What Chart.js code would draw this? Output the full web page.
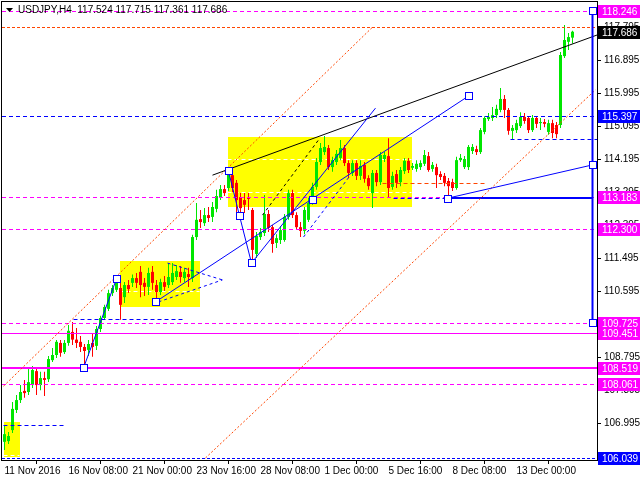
<!DOCTYPE html>
<html>
<head>
<meta charset="utf-8">
<script src="https://cdn.jsdelivr.net/npm/chart.js@4.4.1/dist/chart.umd.min.js"></script>
<style>
  html, body { margin: 0; padding: 0; background: #fff; }
</style>
</head>
<body>
<canvas id="chart" width="640" height="480"></canvas>
<script>
// USDJPY H4 candles (bar 0 = 11 Nov 2016)
const opens = [
  106.49,106.51,106.81,107.36,107.63,107.88,107.85,108.04,108.42,108.04,
  108.23,108.20,108.72,108.86,109.19,108.94,109.19,109.49,109.28,109.22,
  109.08,109.00,109.19,109.11,109.57,109.87,110.12,110.55,110.64,110.69,
  110.44,110.77,110.83,110.96,111.13,110.83,110.72,111.13,110.77,110.58,
  110.85,110.77,110.85,110.99,111.13,110.96,111.07,110.96,112.08,112.57,
  112.46,112.68,112.63,112.85,113.17,113.39,113.42,113.77,113.56,113.17,
  113.09,113.17,112.82,111.62,112.08,112.19,112.71,112.35,111.92,112.00,
  112.00,112.63,113.28,112.68,112.35,112.25,112.55,113.04,113.45,114.13,
  114.40,114.51,113.99,114.13,114.24,114.51,114.10,113.83,114.10,113.75,
  114.05,113.69,113.28,113.83,113.58,114.21,114.29,113.45,113.80,113.58,
  113.88,114.16,113.97,113.94,113.99,114.08,114.29,113.94,113.99,113.80,
  113.75,113.61,113.58,113.42,114.18,113.99,113.99,114.43,114.48,114.40,
  114.95,115.30,115.33,115.41,115.55,115.85,115.55,114.98,115.00,115.11,
  115.36,115.33,115.00,115.33,115.19,115.22,114.95,115.19,115.14,115.14,
  117.02,117.41,117.524
];
const highs = [
  106.95,106.76,107.58,107.77,108.04,108.18,108.51,108.56,108.51,108.40,
  108.40,108.83,109.05,109.27,109.27,109.27,109.68,109.76,109.60,109.38,
  109.16,109.27,109.46,109.65,109.93,110.23,110.64,110.77,110.94,110.85,
  110.85,110.91,111.06,111.10,111.29,110.96,111.24,111.29,110.91,110.94,
  111.02,111.37,111.37,111.32,111.29,111.24,111.24,112.14,113.01,112.82,
  112.87,112.90,113.04,113.37,113.50,113.50,113.91,113.86,113.64,113.28,
  113.28,113.28,112.87,112.22,112.33,113.23,112.82,112.41,112.16,112.38,
  112.71,113.37,113.37,112.76,112.49,112.90,113.15,113.56,114.24,114.65,
  114.84,114.59,114.27,114.46,114.73,114.59,114.18,114.18,114.18,114.18,
  114.13,113.77,113.91,113.91,114.40,114.40,114.78,113.86,113.91,113.99,
  114.24,114.24,114.10,114.18,114.18,114.46,114.40,114.13,114.08,113.88,
  113.83,113.69,113.67,114.27,114.35,114.29,114.59,114.62,114.57,115.06,
  115.38,115.47,115.63,115.69,116.15,115.96,115.60,115.14,115.28,115.49,
  115.47,115.38,115.41,115.38,115.33,115.30,115.28,115.28,115.22,117.13,
  117.87,117.65,117.715
];
const lows = [
  106.27,106.43,106.73,107.28,107.55,107.69,107.77,107.96,107.77,107.90,
  107.74,108.12,108.67,108.78,108.81,108.89,109.11,109.13,109.05,108.94,
  108.52,108.83,108.81,109.00,109.49,109.82,110.06,110.47,110.58,109.82,
  110.28,110.55,110.72,110.69,110.44,110.47,110.50,110.64,110.31,110.50,
  110.61,110.69,110.77,110.91,110.83,110.85,110.72,110.85,112.00,112.33,
  112.38,112.49,112.49,112.76,113.09,113.20,113.34,113.31,112.55,112.68,
  112.74,112.82,111.37,111.51,112.00,112.11,112.22,111.65,111.78,111.89,
  111.95,112.55,112.60,112.27,112.08,112.16,112.49,112.96,113.37,114.05,
  114.32,113.91,113.86,114.05,114.18,114.02,113.69,113.75,113.64,113.64,
  113.56,113.37,112.87,113.47,113.50,114.13,113.17,113.37,113.42,113.47,
  113.80,113.83,113.91,113.86,113.91,114.02,113.86,113.86,113.42,113.64,
  113.47,113.17,113.34,113.37,114.13,113.94,113.91,114.35,114.32,114.35,
  114.89,115.25,115.25,115.33,115.49,115.33,114.87,114.73,114.92,115.06,
  115.17,114.92,114.95,115.06,115.00,115.08,114.87,114.78,114.78,115.06,
  116.97,117.19,117.361
];
const closes = [
  106.70,106.65,107.39,107.63,107.85,107.82,108.12,108.45,108.04,108.23,
  108.18,108.75,108.86,109.22,108.92,109.19,109.52,109.28,109.19,109.08,
  108.97,109.16,109.08,109.57,109.87,110.17,110.55,110.69,110.83,110.23,
  110.77,110.66,110.96,110.83,110.77,110.72,111.10,110.83,110.58,110.85,
  110.72,110.99,111.10,111.15,110.99,111.13,110.99,112.08,112.55,112.49,
  112.68,112.60,112.90,113.20,113.39,113.28,113.83,113.42,113.09,112.87,
  112.96,113.12,111.73,112.11,112.22,112.71,112.33,111.89,112.05,112.27,
  112.63,113.28,112.68,112.35,112.25,112.82,113.01,113.45,114.13,114.51,
  114.54,113.99,114.18,114.35,114.51,114.10,113.83,114.10,113.75,114.02,
  113.67,113.47,113.83,113.58,114.32,114.32,113.42,113.75,113.56,113.91,
  114.16,113.91,114.02,114.08,114.10,114.32,113.91,114.05,113.77,113.72,
  113.56,113.47,113.42,114.18,114.24,114.21,114.54,114.54,114.40,115.00,
  115.33,115.36,115.41,115.58,115.85,115.55,114.98,115.06,115.19,115.36,
  115.25,115.00,115.33,115.17,115.22,115.17,115.19,114.92,114.89,117.05,
  117.46,117.54,117.686
];

const timeLabels = ['11 Nov 2016', '16 Nov 08:00', '21 Nov 00:00', '23 Nov 16:00', '28 Nov 08:00',
                    '1 Dec 00:00', '5 Dec 16:00', '8 Dec 08:00', '13 Dec 00:00'];
const timeTickBars = [0, 16, 32, 48, 64, 80, 96, 112, 128];
const priceTicks = [106.995, 107.895, 108.795, 109.695, 110.595, 111.495, 112.395, 113.295,
                    114.195, 115.095, 115.995, 116.895, 117.795];

// drawn objects, in bar index / price
const zones = [ // [bar from, bar to, price top, price bottom]
  [-0.25, 3.75, 107.03, 106.08],
  [28.75, 48.75, 111.43, 110.17],
  [55.75, 101.75, 114.81, 112.90]
];
const zoneMarks = [ // white dashed levels inside the zones
  [-0.25, 3.75, 106.95], [-0.25, 3.75, 106.13],
  [28.75, 48.75, 110.61],
  [55.75, 101.75, 114.21], [55.75, 101.75, 113.31]
];
const levels = [ // [price, bar from, bar to, colour, width, dash]
  [118.246, null, 147, '#ff00ff', 1, [4, 3]],
  [117.81, null, null, '#ff4500', 1, [3, 2]],
  [115.397, null, null, '#0000ff', 1, [4, 3]],
  [114.76, 126.5, null, '#0000ff', 1, [4, 3]],
  [113.56, 94.5, 120.75, '#ff4500', 1, [4, 3]],
  [113.183, null, null, '#ff00ff', 1, [4, 3]],
  [113.14, 97.25, 110.75, '#0000ff', 1, [4, 3]],
  [113.14, 110.75, 147, '#0000ff', 2, []],
  [112.300, null, null, '#ff00ff', 1, [4, 3]],
  [109.84, 17.25, 45, '#0000ff', 1, [4, 3]],
  [109.725, null, 147, '#ff00ff', 1, [4, 3]],
  [109.451, null, null, '#ff00ff', 1, []],
  [108.519, null, null, '#ff00ff', 2, []],
  [108.061, null, null, '#ff00ff', 1, [4, 3]],
  [106.95, -0.25, 14.75, '#0000ff', 1, [4, 3]],
  [106.039, null, null, '#0000ff', 1, [3, 2]]
];
const trendLines = [ // [bar1, price1, bar2, price2, colour, width, dash]
  [-0.25, 108.01, 92, 117.81, '#ff4500', 1, [2, 2]],
  [50.25, 106.05, 147.75, 116.10, '#ff4500', 1, [2, 2]],
  [52, 113.77, 148.25, 117.60, '#000000', 1, []],
  [37.75, 110.31, 116, 115.93, '#0000ff', 1, []],
  [61.75, 111.37, 92.75, 115.60, '#0000ff', 1, []],
  [19.75, 108.51, 28, 110.94, '#0000ff', 1, []],
  [56, 113.88, 58.75, 112.66, '#0000ff', 1, []],
  [58.75, 112.66, 61.75, 111.37, '#0000ff', 1, []],
  [110.75, 113.14, 147, 114.05, '#0000ff', 1, []],
  [147, 118.246, 147, 109.725, '#0000ff', 2, []],
  [40.75, 111.37, 54.5, 110.91, '#0000ff', 1, [3, 3]],
  [38.5, 110.31, 54.5, 110.91, '#0000ff', 1, [3, 3]],
  [74.75, 112.08, 86.5, 113.77, '#0000ff', 1, [3, 3]],
  [64.5, 112.68, 78.5, 114.73, '#000000', 1, [3, 3]]
];
const anchors = [
  [19.75, 108.51], [28, 110.94], [37.75, 110.31], [56, 113.88], [58.75, 112.66],
  [61.75, 111.37], [77, 113.09], [110.75, 113.12], [116, 115.93],
  [147, 118.246], [147, 114.05], [147, 109.725]
];
const priceTags = [ // [price, background]
  [118.246, '#ff00ff'], [117.686, '#000000'], [115.397, '#0000ff'], [113.183, '#ff00ff'],
  [112.300, '#ff00ff'], [109.725, '#ff00ff'], [109.451, '#ff00ff'], [108.519, '#ff00ff'],
  [108.061, '#ff00ff'], [106.039, '#0000ff']
];

const bull = '#00e600';
const bear = '#ff0000';
const candleColor = c => closes[c.dataIndex] >= opens[c.dataIndex] ? bull : bear;
const bars = opens.map((o, i) => i);
const font = { family: 'Liberation Sans, Arial, sans-serif', size: 10 };

const overlay = {
  id: 'overlay',
  beforeDatasetsDraw(chart) {
    const { ctx, chartArea: a, scales: { x, y } } = chart;
    ctx.save();
    ctx.beginPath();
    ctx.rect(a.left, a.top, a.width, a.height);
    ctx.clip();
    ctx.fillStyle = '#ffff00';
    zones.forEach(z => {
      const x1 = x.getPixelForValue(z[0]), x2 = x.getPixelForValue(z[1]);
      const y1 = y.getPixelForValue(z[2]), y2 = y.getPixelForValue(z[3]);
      ctx.fillRect(Math.round(x1), Math.round(y1), Math.round(x2 - x1), Math.round(y2 - y1));
    });
    ctx.strokeStyle = '#ffffff';
    ctx.lineWidth = 1;
    ctx.setLineDash([4, 3]);
    zoneMarks.forEach(m => {
      const yy = Math.round(y.getPixelForValue(m[2])) + 0.5;
      ctx.beginPath();
      ctx.moveTo(x.getPixelForValue(m[0]), yy);
      ctx.lineTo(x.getPixelForValue(m[1]), yy);
      ctx.stroke();
    });
    ctx.restore();
  },
  afterDatasetsDraw(chart) {
    const { ctx, chartArea: a, scales: { x, y } } = chart;
    ctx.save();
    ctx.beginPath();
    ctx.rect(a.left, a.top, a.width, a.height);
    ctx.clip();
    levels.forEach(l => {
      const w = l[4];
      const yy = Math.round(y.getPixelForValue(l[0])) + (w % 2 ? 0.5 : 0);
      ctx.strokeStyle = l[3];
      ctx.lineWidth = w;
      ctx.setLineDash(l[5]);
      ctx.beginPath();
      ctx.moveTo(l[1] === null ? a.left : x.getPixelForValue(l[1]), yy);
      ctx.lineTo(l[2] === null ? a.right : x.getPixelForValue(l[2]), yy);
      ctx.stroke();
    });
    trendLines.forEach(t => {
      ctx.strokeStyle = t[4];
      ctx.lineWidth = t[5];
      ctx.setLineDash(t[6]);
      ctx.beginPath();
      ctx.moveTo(x.getPixelForValue(t[0]), y.getPixelForValue(t[1]));
      ctx.lineTo(x.getPixelForValue(t[2]), y.getPixelForValue(t[3]));
      ctx.stroke();
    });
    ctx.setLineDash([]);
    ctx.strokeStyle = '#0000ff';
    ctx.lineWidth = 1;
    anchors.forEach(p => {
      const px = Math.round(x.getPixelForValue(p[0])), py = Math.round(y.getPixelForValue(p[1]));
      ctx.fillStyle = '#ffffff';
      ctx.fillRect(px - 3, py - 3, 6, 6);
      ctx.strokeRect(px - 3.5, py - 3.5, 7, 7);
    });
    ctx.restore();
  },
  afterDraw(chart) {
    const { ctx, chartArea: a, scales: { y } } = chart;
    ctx.save();
    ctx.strokeStyle = '#000';
    ctx.lineWidth = 1;
    ctx.strokeRect(a.left - 0.5, a.top - 0.5, a.right - a.left + 1, a.bottom - a.top + 1);
    ctx.font = '10px ' + font.family;
    ctx.textBaseline = 'middle';
    ctx.textAlign = 'left';
    priceTags.forEach(t => {
      const py = Math.round(y.getPixelForValue(t[0]));
      ctx.fillStyle = t[1];
      ctx.fillRect(a.right + 1, py - 6, 640 - a.right - 1, 13);
      ctx.fillStyle = '#ffffff';
      ctx.fillText(t[0].toFixed(3), a.right + 5, py + 1);
    });
    // header
    ctx.fillStyle = '#000';
    ctx.beginPath();
    ctx.moveTo(6, 8); ctx.lineTo(13, 8); ctx.lineTo(9.5, 12); ctx.closePath();
    ctx.fill();
    ctx.fillText('USDJPY,H4  ' + [opens[142], highs[142], lows[142], closes[142]].map(v => v.toFixed(3)).join(' '), 18, 10);
    ctx.restore();
  }
};

new Chart(document.getElementById('chart').getContext('2d'), {
  type: 'bar',
  data: {
    datasets: [
      {
        label: 'body',
        data: bars.map(i => ({ x: i, y: [opens[i], closes[i]] })),
        backgroundColor: candleColor,
        barThickness: 3,
        minBarLength: 1,
        grouped: false,
        inflateAmount: 0
      },
      {
        label: 'wick',
        data: bars.map(i => ({ x: i, y: [lows[i], highs[i]] })),
        backgroundColor: candleColor,
        barThickness: 1,
        grouped: false,
        inflateAmount: 0
      }
    ]
  },
  options: {
    responsive: false,
    animation: false,
    devicePixelRatio: 1,
    layout: { padding: { left: 2, top: 2, right: 0, bottom: 0 } },
    plugins: { legend: { display: false }, tooltip: { enabled: false } },
    scales: {
      x: {
        type: 'linear',
        min: -0.625,
        max: 148.125,
        offset: false,
        grid: { drawOnChartArea: false, tickLength: 4, color: '#000' },
        border: { color: '#000' },
        ticks: {
          font: font, color: '#000', padding: 1, align: 'start', maxRotation: 0,
          callback: v => timeLabels[timeTickBars.indexOf(v)]
        },
        afterBuildTicks: s => { s.ticks = timeTickBars.map(v => ({ value: v })); },
        afterFit: s => { s.height = 20; s.paddingLeft = 0; s.paddingRight = 0; }
      },
      y: {
        position: 'right',
        min: 105.994,
        max: 118.497,
        grid: { drawOnChartArea: false, tickLength: 4, color: '#000' },
        border: { color: '#000' },
        ticks: { font: font, color: '#000', padding: 3, callback: v => v.toFixed(3) },
        afterBuildTicks: s => { s.ticks = priceTicks.map(v => ({ value: v })); },
        afterFit: s => { s.width = 43; s.paddingTop = 0; s.paddingBottom = 0; }
      }
    }
  },
  plugins: [overlay]
});
</script>
</body>
</html>
